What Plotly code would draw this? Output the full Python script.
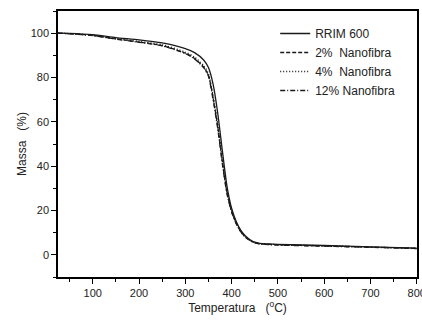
import plotly.graph_objects as go

temperatura = [25, 50, 100, 150, 200, 250, 300, 320, 340, 350, 360, 370, 380, 390, 400,
               410, 420, 430, 440, 450, 460, 480, 500, 600, 700, 800]
rrim600 = [100, 99.9, 99.3, 98.0, 97.0, 95.6, 93.0, 91.2, 87.8, 84.5, 77, 64, 47, 31, 21,
           15, 11, 8.5, 6.8, 5.7, 5.2, 4.9, 4.7, 4.2, 3.6, 3.0]
nano2 = [100, 99.8, 99.0, 97.4, 96.0, 94.4, 91.0, 88.6, 84.6, 81.0, 71, 58, 42, 28, 19.5,
         14.2, 10.4, 8.0, 6.5, 5.5, 5.0, 4.7, 4.5, 4.0, 3.5, 2.9]
nano4 = [100, 99.8, 99.1, 97.6, 96.3, 94.8, 91.5, 89.2, 85.3, 81.8, 72, 59, 43, 29, 20,
         14.5, 10.6, 8.1, 6.6, 5.6, 5.1, 4.8, 4.6, 4.1, 3.5, 3.0]
nano12 = [100, 99.7, 98.9, 97.3, 95.9, 94.3, 90.8, 88.4, 84.3, 80.6, 70, 57, 41, 27.5, 19.3,
          14.0, 10.3, 7.9, 6.4, 5.4, 4.9, 4.6, 4.4, 3.9, 3.4, 2.8]

series = [
    ("RRIM 600", rrim600, "solid"),
    ("2%  Nanofibra", nano2, "4px,2px"),
    ("4%  Nanofibra", nano4, "1px,2px"),
    ("12% Nanofibra", nano12, "5px,2px,1px,2px"),
]

fig = go.Figure()
for name, vals, dash in series:
    fig.add_trace(go.Scatter(
        x=temperatura, y=vals, mode="lines", name=name,
        line=dict(color="#1a1a1a", width=1.3, dash=dash, shape="spline", smoothing=0.6),
    ))

axis_common = dict(
    showline=True, linecolor="black", linewidth=1.5, mirror=True,
    ticks="outside", ticklen=5, tickwidth=1.2, tickcolor="black",
    showgrid=False, zeroline=False, ticklabeloverflow="allow", automargin=False,
    tickfont=dict(family="Liberation Sans, Arial, sans-serif", size=11, color="#222"),
)

fig.update_layout(
    width=422, height=320,
    margin=dict(l=58, r=5, t=11, b=43, autoexpand=False),
    paper_bgcolor="white", plot_bgcolor="white",
    font=dict(family="Liberation Sans, Arial, sans-serif", color="#222"),
    showlegend=True,
    legend=dict(
        x=0.605, y=0.97, xanchor="left", yanchor="top",
        bgcolor="rgba(0,0,0,0)", borderwidth=0,
        font=dict(size=12, color="#222"), tracegroupgap=0, itemwidth=30,
    ),
    xaxis=dict(
        range=[25, 800.5], dtick=100, tick0=0,
        minor=dict(dtick=50, ticks="outside", ticklen=3, tickcolor="black"),
        title=dict(text="Temperatura   (<sup>o</sup>C)", font=dict(size=12), standoff=6),
        **axis_common,
    ),
    yaxis=dict(
        range=[-10, 110], dtick=20, tick0=0,
        minor=dict(dtick=10, ticks="outside", ticklen=3, tickcolor="black"),
        title=dict(text="Massa   (%)", font=dict(size=12), standoff=1),
        **axis_common,
    ),
)

fig.write_html("out.html", config={"displayModeBar": False},
               post_script="document.body.style.margin='0';")
